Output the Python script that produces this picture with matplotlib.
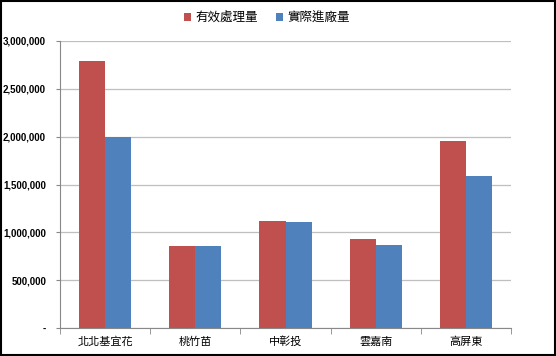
import numpy as np
import matplotlib
matplotlib.use("Agg")
from matplotlib import pyplot as plt
from matplotlib.ticker import FixedLocator

plt.rcParams['font.family'] = ['Noto Sans CJK TC', 'DejaVu Sans']

regions = ['北北基宜花', '桃竹苗', '中彰投', '雲嘉南', '高屏東']
effective = [2790000, 855000, 1116000, 931000, 1956000]
actual = [2000000, 858000, 1109000, 872000, 1590000]
series_names = ['有效處理量', '實際進廠量']

fig = plt.figure(figsize=(5.56, 3.56), dpi=100)
ax = fig.add_axes([60/556, 1 - 328/356, (511-60)/556, (328-41)/356])

x = np.arange(len(regions))
w = 0.29
ax.bar(x - w/2, effective, w, color='#C0504D', label=series_names[0], zorder=3)
ax.bar(x + w/2, actual, w, color='#4F81BD', label=series_names[1], zorder=3)

ax.set_xlim(-0.5, len(regions) - 0.5)
ax.set_ylim(0, 3000000)
yt = np.arange(0, 3000001, 500000)
ylabels = ['-' if v == 0 else f'{int(v):,}' for v in yt]
ax.set_yticks(yt, labels=ylabels, fontsize=7, fontweight='bold',
              fontfamily=['Liberation Sans Narrow', 'Liberation Sans', 'DejaVu Sans'])
ax.grid(axis='y', color='#BFBFBF', linewidth=0.9, zorder=0)

ax.set_xticks(x)
ax.set_xticklabels(regions, fontsize=8)
ax.xaxis.set_minor_locator(FixedLocator(np.arange(-0.5, len(regions), 1)))
ax.tick_params(axis='x', which='major', length=0, pad=6)
ax.tick_params(axis='x', which='minor', length=4, color='#888888')
ax.tick_params(axis='y', length=3, color='#888888', pad=7)

for s in ['top', 'right']:
    ax.spines[s].set_visible(False)
ax.spines['left'].set_color('#888888')
ax.spines['bottom'].set_color('#888888')

fig.legend(loc='upper center', bbox_to_anchor=(0.48, 1.0), ncol=2, frameon=False,
           fontsize=9, handlelength=0.55, handleheight=0.55, columnspacing=1.5,
           handletextpad=0.35)

fig.patches.append(plt.Rectangle((0.002, 0.003), 0.996, 0.994, transform=fig.transFigure,
                                 fill=False, edgecolor='black', linewidth=1.5))

fig.savefig('out.png', dpi=100)
